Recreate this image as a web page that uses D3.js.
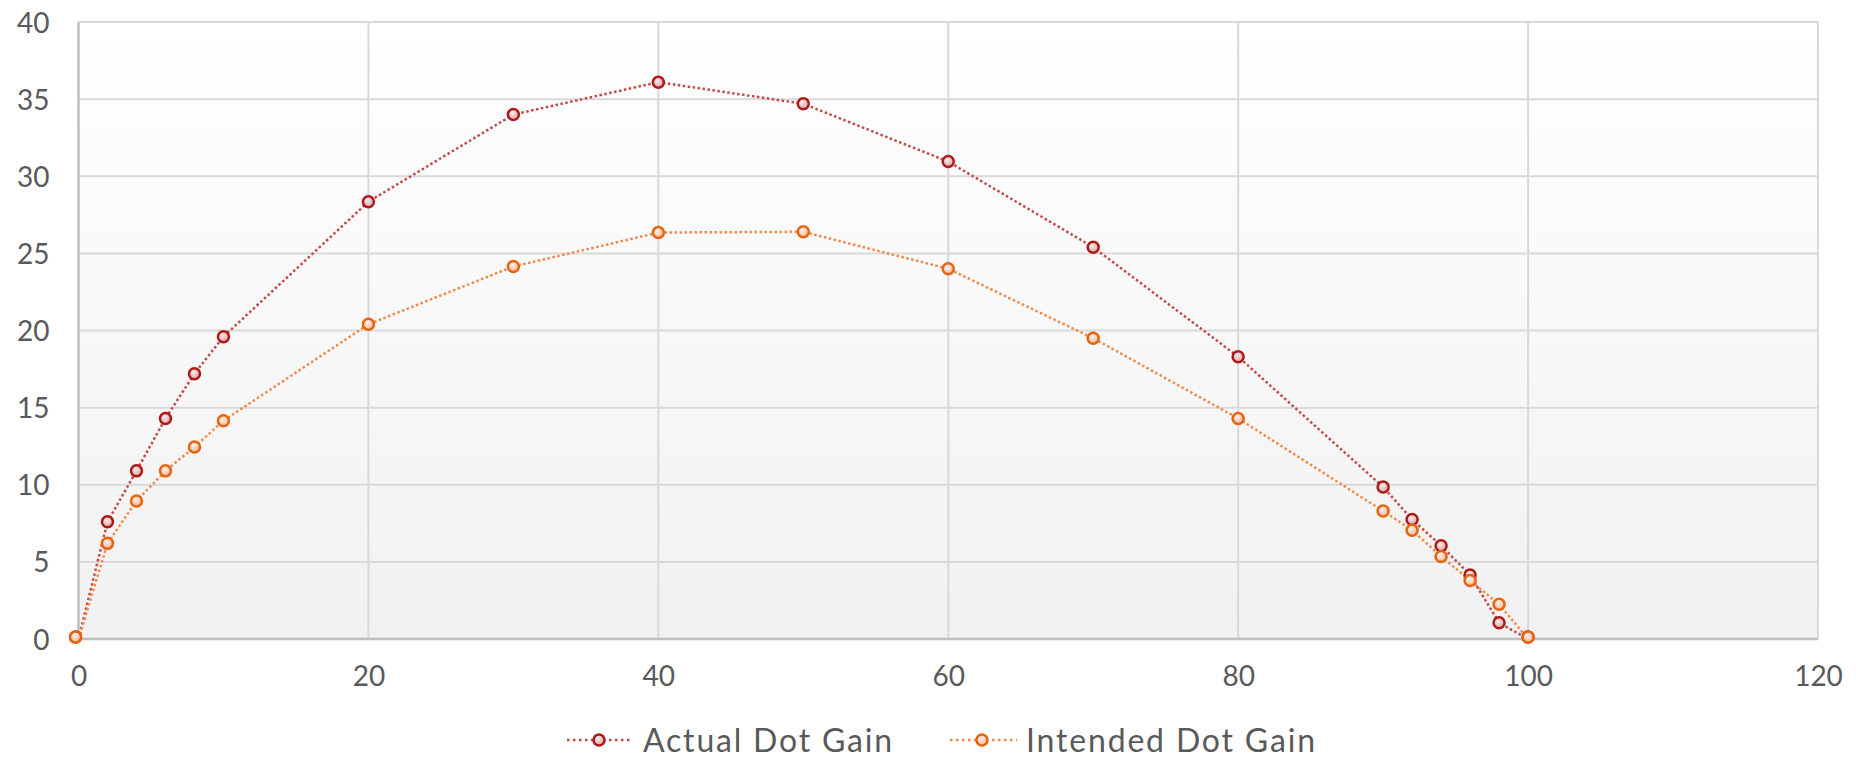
<!DOCTYPE html>
<html><head><meta charset="utf-8">
<script src="https://cdn.jsdelivr.net/npm/d3@7"></script>
<style>html,body{margin:0;padding:0;background:#fff;}svg{display:block;font-family:Lato,"Open Sans",sans-serif;}</style>
</head><body>
<script>
const xValues = [0,2,4,6,8,10,20,30,40,50,60,70,80,90,92,94,96,98,100];
const actualDotGain = [0,7.6,10.9,14.3,17.2,19.6,28.35,34.0,36.1,34.7,30.95,25.4,18.3,9.85,7.75,6.05,4.15,1.05,0];
const intendedDotGain = [0,6.2,8.95,10.9,12.45,14.15,20.4,24.15,26.35,26.4,24.0,19.5,14.3,8.3,7.05,5.35,3.8,2.25,0];
const xTicks = [0,20,40,60,80,100,120];
const yTicks = [0,5,10,15,20,25,30,35,40];
const seriesNames = ["Actual Dot Gain","Intended Dot Gain"];

const W=1856,H=763;
const m={left:78.5,right:1818,top:22,bottom:639};
const svg=d3.select("body").append("svg").attr("width",W).attr("height",H);
const x=d3.scaleLinear().domain([0,120]).range([m.left,m.right]);
const y=d3.scaleLinear().domain([0,40]).range([m.bottom,m.top]);

const defs=svg.append("defs");
const bg=defs.append("linearGradient").attr("id","bg").attr("x1",0).attr("y1",0).attr("x2",0).attr("y2",1);
bg.append("stop").attr("offset","0%").attr("stop-color","#ffffff");
bg.append("stop").attr("offset","100%").attr("stop-color","#f1f1f1");
function mk(id,c1,c2){const g=defs.append("radialGradient").attr("id",id).attr("cx","40%").attr("cy","35%").attr("r","65%");
g.append("stop").attr("offset","0%").attr("stop-color",c1);g.append("stop").attr("offset","100%").attr("stop-color",c2);}
mk("fa","#f6eaea","#d9a9ab");
mk("fi","#fdf0ea","#f6b99a");

svg.append("rect").attr("x",m.left).attr("y",m.top).attr("width",m.right-m.left).attr("height",m.bottom-m.top).attr("fill","url(#bg)");

// grid
svg.append("g").selectAll("line").data(yTicks.filter(d=>d>0)).join("line")
 .attr("x1",m.left).attr("x2",m.right).attr("y1",d=>y(d)).attr("y2",d=>y(d))
 .attr("stroke","#d9d9d9").attr("stroke-width",2);
svg.append("g").selectAll("line").data(xTicks.filter(d=>d>0)).join("line")
 .attr("y1",m.top).attr("y2",m.bottom).attr("x1",d=>x(d)).attr("x2",d=>x(d))
 .attr("stroke","#d9d9d9").attr("stroke-width",2);
// axes lines
svg.append("line").attr("x1",m.left).attr("x2",m.left).attr("y1",m.top).attr("y2",m.bottom+1).attr("stroke","#bfbfbf").attr("stroke-width",2.5);
svg.append("line").attr("x1",m.left).attr("x2",m.right).attr("y1",m.bottom).attr("y2",m.bottom).attr("stroke","#bfbfbf").attr("stroke-width",2.5);

// tick labels via axes
const yAxis=svg.append("g").attr("transform",`translate(${m.left},0)`).call(d3.axisLeft(y).tickValues(yTicks).tickSize(0).tickPadding(29));
yAxis.select(".domain").remove();
yAxis.selectAll("text").attr("font-size",28).attr("fill","#595959").attr("font-family","Lato,sans-serif").attr("dy","0.36em");
const xAxis=svg.append("g").attr("transform",`translate(0,${m.bottom})`).call(d3.axisBottom(x).tickValues(xTicks).tickSize(0).tickPadding(30));
xAxis.select(".domain").remove();
xAxis.selectAll("text").attr("font-size",28).attr("fill","#595959").attr("font-family","Lato,sans-serif").attr("dy","0.6em");

const series=[
 {name:seriesNames[0],vals:actualDotGain,line:"#c4494a",stroke:"#b01818",fill:"url(#fa)"},
 {name:seriesNames[1],vals:intendedDotGain,line:"#f08a4b",stroke:"#e8630f",fill:"url(#fi)"}
];
const line=d3.line().x(d=>x(d[0])).y(d=>y(d[1]));
series.forEach(s=>{
 const pts=xValues.map((v,i)=>[v,s.vals[i]]);
 svg.append("path").datum(pts).attr("d",line).attr("fill","none").attr("stroke",s.line).attr("stroke-width",2.5).attr("stroke-dasharray","2.5,2.5");
});
series.forEach(s=>{
 const pts=xValues.map((v,i)=>[v,s.vals[i]]);
 svg.append("g").selectAll("circle").data(pts).join("circle")
  .attr("cx",d=>x(d[0])-(d[0]===0?3:0)).attr("cy",d=>y(d[1])-(d[1]===0?2:0)).attr("r",5.5)
  .attr("fill",s.fill).attr("stroke",s.stroke).attr("stroke-width",2.5);
});

// legend
const leg=[{x0:567,x1:633,mx:599,tx:643,tw:249},{x0:950,x1:1017,mx:982,tx:1026,tw:289}];
series.forEach((s,i)=>{
 const L=leg[i], ly=740;
 svg.append("line").attr("x1",L.x0).attr("x2",L.x1).attr("y1",ly).attr("y2",ly).attr("stroke",s.line).attr("stroke-width",2.5).attr("stroke-dasharray","2.5,3.5");
 svg.append("circle").attr("cx",L.mx).attr("cy",ly).attr("r",5.5).attr("fill",s.fill).attr("stroke",s.stroke).attr("stroke-width",2.5);
 const t=svg.append("text").attr("x",L.tx).attr("y",ly).attr("dy","0.36em").attr("font-size",32).attr("fill","#595959").text(s.name);
 const w=t.node().getComputedTextLength();
 const n=s.name.length;
 t.attr("letter-spacing",((L.tw-w)/(n-1)).toFixed(2));
});
</script>
</body></html>
